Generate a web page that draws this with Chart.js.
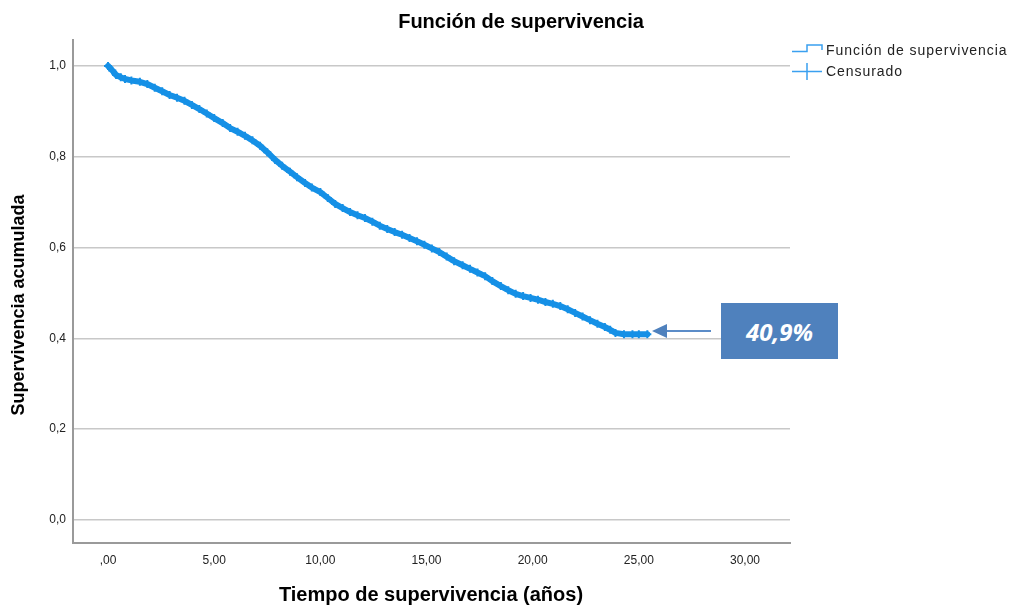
<!DOCTYPE html>
<html>
<head>
<meta charset="utf-8">
<script src="https://cdn.jsdelivr.net/npm/chart.js@4.4.1/dist/chart.umd.min.js"></script>
<style>
html,body{margin:0;padding:0;background:#fff;}
#wrap{position:relative;width:1009px;height:606px;}
#note{position:absolute;left:721px;top:303px;width:117px;height:56px;background:#4f81bd;color:#fff;
font:italic bold 24px "Open Sans","Liberation Sans",sans-serif;display:flex;align-items:center;justify-content:center;}
</style>
</head>
<body>
<div id="wrap">
<canvas id="c" width="1009" height="606"></canvas>
<div id="note">40,9%</div>
</div>
<script>
const titleText = "Función de supervivencia";
const xTitle = "Tiempo de supervivencia (años)";
const yTitle = "Supervivencia acumulada";
const legendLabels = ["Función de supervivencia", "Censurado"];
const xTicks = [0, 5, 10, 15, 20, 25, 30];
const yTicks = [0, 0.2, 0.4, 0.6, 0.8, 1.0];
const tiempos = [0, 0.2, 0.38, 0.6, 0.8, 1.1, 1.5, 1.85, 2.2, 2.55, 2.9, 3.25, 3.6, 3.95, 4.3, 4.65, 5.0, 5.4, 5.75, 6.1, 6.45, 6.8, 7.16, 7.5, 7.87, 8.2, 8.57, 8.9, 9.28, 9.6, 10.0, 10.35, 10.7, 11.05, 11.4, 11.75, 12.1, 12.45, 12.8, 13.15, 13.5, 13.85, 14.2, 14.55, 14.9, 15.25, 15.6, 15.95, 16.3, 16.7, 17.05, 17.4, 17.76, 18.1, 18.5, 18.85, 19.2, 19.55, 19.9, 20.25, 20.6, 20.95, 21.3, 21.65, 22.0, 22.35, 22.7, 23.05, 23.4, 23.65, 23.9, 24.3, 24.7, 25.0, 25.4];
const supervivencia = [1.0, 0.99, 0.98, 0.975, 0.971, 0.968, 0.965, 0.96, 0.952, 0.944, 0.936, 0.93, 0.923, 0.914, 0.905, 0.895, 0.885, 0.874, 0.863, 0.855, 0.846, 0.836, 0.824, 0.81, 0.793, 0.78, 0.767, 0.755, 0.742, 0.732, 0.722, 0.709, 0.696, 0.687, 0.678, 0.671, 0.665, 0.657, 0.648, 0.641, 0.634, 0.628, 0.621, 0.614, 0.606, 0.598, 0.59, 0.58, 0.57, 0.561, 0.553, 0.545, 0.537, 0.526, 0.515, 0.506, 0.498, 0.493, 0.489, 0.485, 0.48, 0.476, 0.471, 0.464, 0.456, 0.448, 0.44, 0.432, 0.425, 0.419, 0.412, 0.409, 0.409, 0.409, 0.409];

const lineColor = '#1590e6';
const pts = tiempos.map((t,i)=>({x:t,y:supervivencia[i]}));

const fmtX = v => { const s = v.toFixed(2).replace('.', ','); return s.startsWith('0,') ? s.slice(1) : s; };
const fmtY = v => v.toFixed(1).replace('.', ',');

const extras = {
  id:'extras',
  afterDraw(chart){
    const ctx = chart.ctx;
    ctx.save();
    ctx.fillStyle = '#000';
    ctx.textAlign = 'center';
    ctx.textBaseline = 'middle';
    ctx.font = 'bold 20px "Liberation Sans", Arial, sans-serif';
    ctx.fillText(titleText, 521, 22);
    ctx.fillText(xTitle, 431, 595);
    ctx.font = 'bold 18px "Liberation Sans", Arial, sans-serif';
    ctx.save();
    ctx.translate(19, 305);
    ctx.rotate(-Math.PI/2);
    ctx.fillText(yTitle, 0, 0);
    ctx.restore();
    // legend
    ctx.strokeStyle = '#3aa0f0';
    ctx.lineWidth = 1.5;
    ctx.beginPath();
    ctx.moveTo(792, 51.5); ctx.lineTo(807, 51.5); ctx.lineTo(807, 45); ctx.lineTo(822, 45); ctx.lineTo(822, 50);
    ctx.stroke();
    ctx.beginPath();
    ctx.moveTo(792, 71.5); ctx.lineTo(822, 71.5);
    ctx.moveTo(807, 63); ctx.lineTo(807, 80);
    ctx.stroke();
    ctx.fillStyle = '#222';
    ctx.textAlign = 'left';
    ctx.font = '14px "Liberation Sans", Arial, sans-serif';
    try { ctx.letterSpacing = '0.95px'; } catch(e) {}
    ctx.fillText(legendLabels[0], 826, 51);
    ctx.fillText(legendLabels[1], 826, 72);
    try { ctx.letterSpacing = '0px'; } catch(e) {}
    // arrow
    ctx.strokeStyle = '#5b8cc8';
    ctx.fillStyle = '#4f81bd';
    ctx.lineWidth = 2;
    ctx.beginPath();
    ctx.moveTo(711, 331); ctx.lineTo(664, 331);
    ctx.stroke();
    ctx.beginPath();
    ctx.moveTo(652, 331); ctx.lineTo(667, 324); ctx.lineTo(667, 338); ctx.closePath();
    ctx.fill();
    ctx.restore();
  }
};

new Chart(document.getElementById('c'), {
  type:'line',
  data:{ datasets:[
    { label:legendLabels[0], data:pts, borderColor:lineColor, borderWidth:6, pointRadius:0, tension:0, fill:false, borderCapStyle:'round', borderJoinStyle:'round' },
    { label:legendLabels[1], data:pts, showLine:false, pointStyle:'cross', pointRadius:4, pointBorderWidth:2, borderColor:lineColor, pointBorderColor:lineColor }
  ]},
  options:{
    responsive:false, animation:false,
    layout:{ padding:{ left:0, right:219, top:40, bottom:0 } },
    plugins:{ legend:{display:false}, title:{display:false}, tooltip:{enabled:false} },
    scales:{
      x:{ type:'linear', min:-1.65, max:32.12,
        afterBuildTicks: s => { s.ticks = xTicks.map(v=>({value:v})); },
        afterFit: s => { s.height = 63; },
        ticks:{ callback: v => fmtX(v), color:'#222', font:{family:'"Liberation Sans", Arial, sans-serif', size:12}, padding:10, maxRotation:0 },
        grid:{ display:false, drawTicks:false },
        border:{ color:'#9a9a9a', width:2 }
      },
      y:{ min:-0.0507, max:1.057,
        afterBuildTicks: s => { s.ticks = yTicks.map(v=>({value:v})); },
        afterFit: s => { s.width = 73; },
        ticks:{ callback: v => fmtY(v), color:'#222', font:{family:'"Liberation Sans", Arial, sans-serif', size:12}, padding:7 },
        grid:{ color:'#c8c8c8', lineWidth:1.5, drawTicks:false },
        border:{ color:'#9a9a9a', width:2 }
      }
    }
  },
  plugins:[extras]
});
</script>
</body>
</html>
